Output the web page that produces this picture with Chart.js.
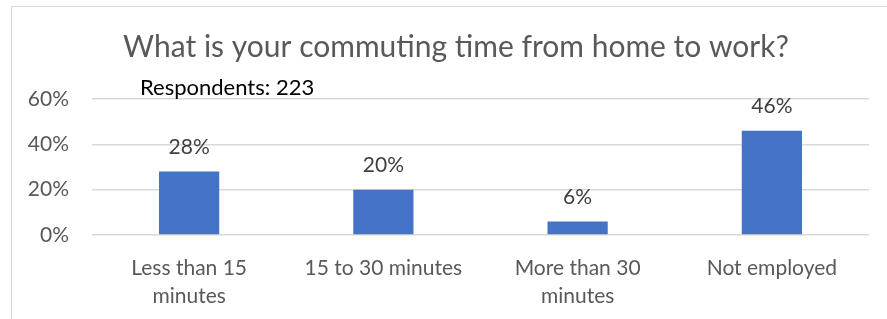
<!DOCTYPE html>
<html>
<head>
<meta charset="utf-8">
<script src="https://cdn.jsdelivr.net/npm/chart.js@4"></script>
<style>
  body { margin: 0; background: #fff; }
  #frame { position: absolute; left: 11px; top: 6px; width: 900px; height: 400px; border: 1px solid #d9d9d9; }
  #wrap { position: absolute; left: 0; top: 0; }
</style>
</head>
<body>
<div id="frame"></div>
<div id="wrap"><canvas id="commute" width="887" height="319"></canvas></div>
<script>
// categories and shares (fraction of respondents)
const categories = [
  ['Less than 15', 'minutes'],
  '15 to 30 minutes',
  ['More than 30', 'minutes'],
  'Not employed'
];
const shares = [0.28, 0.20, 0.06, 0.46];
const yTicks = [0, 0.2, 0.4, 0.6];
const respondents = 223;
const titleText = 'What is your commuting time from home to work?';

const FONT = 'Lato, "Open Sans", sans-serif';

// title (centred on the frame, not the canvas), value labels, respondents note
const annotate = {
  id: 'annotate',
  afterDatasetsDraw(chart) {
    const ctx = chart.ctx;
    const meta = chart.getDatasetMeta(0);
    ctx.save();
    ctx.textBaseline = 'middle';
    ctx.textAlign = 'center';
    ctx.font = '30px ' + FONT;
    ctx.fillStyle = '#595959';
    ctx.fillText(titleText, 456, 47);

    ctx.font = '21px ' + FONT;
    ctx.fillStyle = '#404040';
    meta.data.forEach((bar, i) => {
      ctx.fillText(Math.round(shares[i] * 100) + '%', bar.x, bar.y - 24);
    });

    ctx.font = '22px ' + FONT;
    ctx.fillStyle = '#000';
    ctx.textAlign = 'left';
    ctx.fillText('Respondents: ' + respondents, 140, 88);
    ctx.restore();
  }
};

new Chart(document.getElementById('commute'), {
  type: 'bar',
  data: {
    labels: categories,
    datasets: [{
      data: shares,
      backgroundColor: '#4472c4',
      borderWidth: 0,
      barPercentage: 0.62,
      categoryPercentage: 0.5
    }]
  },
  options: {
    responsive: false,
    animation: false,
    layout: { padding: { left: 0, right: 18, top: 99, bottom: 9 } },
    plugins: {
      legend: { display: false },
      tooltip: { enabled: false },
      title: { display: false }
    },
    scales: {
      y: {
        min: 0,
        max: 0.6,
        afterBuildTicks(axis) { axis.ticks = yTicks.map(v => ({ value: v })); },
        afterFit(axis) { axis.width = 92; },
        ticks: {
          color: '#595959',
          font: { family: FONT, size: 21 },
          padding: 23,
          callback: v => Math.round(v * 100) + '%'
        },
        grid: { color: '#d9d9d9', lineWidth: 1.5, drawTicks: false },
        border: { display: false }
      },
      x: {
        afterFit(axis) { axis.height = 75; },
        ticks: {
          color: '#595959',
          font: { family: FONT, size: 21, lineHeight: 1.33 },
          padding: 19,
          maxRotation: 0,
          autoSkip: false
        },
        grid: { display: false, drawTicks: false },
        border: { display: false }
      }
    }
  },
  plugins: [annotate]
});
</script>
</body>
</html>
